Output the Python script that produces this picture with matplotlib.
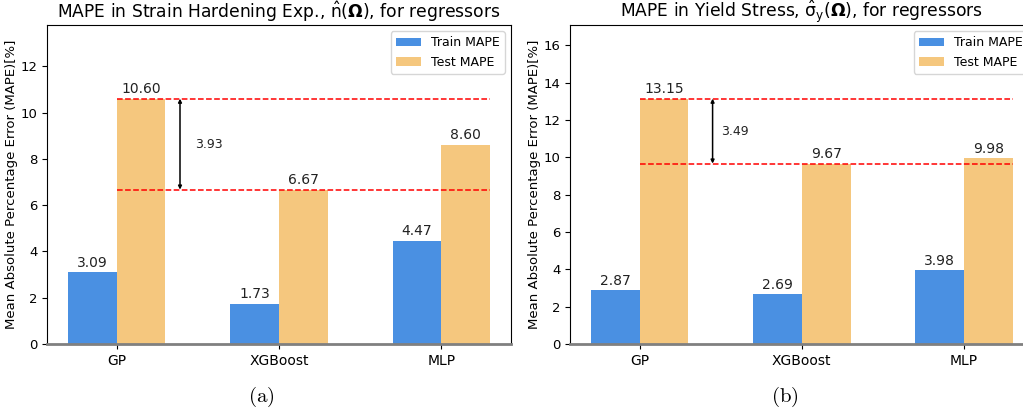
import numpy as np
import matplotlib.pyplot as plt

plt.rcParams['mathtext.default'] = 'regular'

models = ["GP", "XGBoost", "MLP"]
n_train = [3.09, 1.73, 4.47]
n_test = [10.60, 6.67, 8.60]
sy_train = [2.87, 2.69, 3.98]
sy_test = [13.15, 9.67, 9.98]
gaps = [3.93, 3.49]

titles = [r"MAPE in Strain Hardening Exp., $\hat{n}(\mathbf{\Omega})$, for regressors",
          r"MAPE in Yield Stress, $\hat{\sigma}_{y}(\mathbf{\Omega})$, for regressors"]
captions = ["(a)", "(b)"]

train_color = "#4a90e2"
test_color = "#f5c77e"
width = 0.3

fig = plt.figure(figsize=(10.23, 4.13), dpi=100)
axes = [fig.add_axes([0.0459, 0.167, 0.4536, 0.7724]),
        fig.add_axes([0.557, 0.167, 0.4536, 0.7724])]


def draw(ax, train, test, title, gap, arrow_x, text_x):
    x = np.arange(len(models))
    b1 = ax.bar(x - width / 2, train, width, color=train_color, label="Train MAPE")
    b2 = ax.bar(x + width / 2, test, width, color=test_color, label="Test MAPE")
    for bars, vals in [(b1, train), (b2, test)]:
        for b, v in zip(bars, vals):
            ax.text(b.get_x() + b.get_width() / 2, v + 0.12, f"{v:.2f}",
                    ha="center", va="bottom", fontsize=10, color="#222222")
    hi = max(test)
    lo = min(test)
    ax.hlines([hi, lo], 0, x[-1] + width, colors="red", linestyles="--", lw=1.1, zorder=3)
    ax.annotate("", xy=(arrow_x, lo), xytext=(arrow_x, hi),
                arrowprops=dict(arrowstyle="<|-|>", color="black", lw=1.1,
                                mutation_scale=5, shrinkA=0, shrinkB=0))
    ax.text(text_x, (hi + lo) / 2, f"{gap:.2f}", ha="left", va="center",
            fontsize=9, color="#222222")
    ax.set_ylim(0, hi * 1.3)
    ax.set_xlim(-0.43, len(models) - 1 + 0.43)
    ax.set_xticks(x)
    ax.set_xticklabels(models, fontsize=10)
    ax.tick_params(axis="y", labelsize=9.5, pad=3)
    ax.set_ylabel("Mean Absolute Percentage Error (MAPE)[%]", fontsize=9.5)
    ax.yaxis.set_label_coords(-0.062, 0.5)
    ax.set_title(title, fontsize=12.3, pad=5)
    ax.spines["bottom"].set_color("gray")
    ax.spines["bottom"].set_linewidth(2)
    ax.legend(loc="upper right", fontsize=9)


draw(axes[0], n_train, n_test, titles[0], gaps[0], 0.39, 0.48)
draw(axes[1], sy_train, sy_test, titles[1], gaps[1], 0.45, 0.50)

for cx, cap in zip([261, 785], captions):
    fig.text(cx / 1023, 1 - 397 / 413, r"$\mathrm{" + cap + "}$", math_fontfamily="cm",
             ha="center", va="center", fontsize=15)

fig.savefig("out.png", dpi=100)
